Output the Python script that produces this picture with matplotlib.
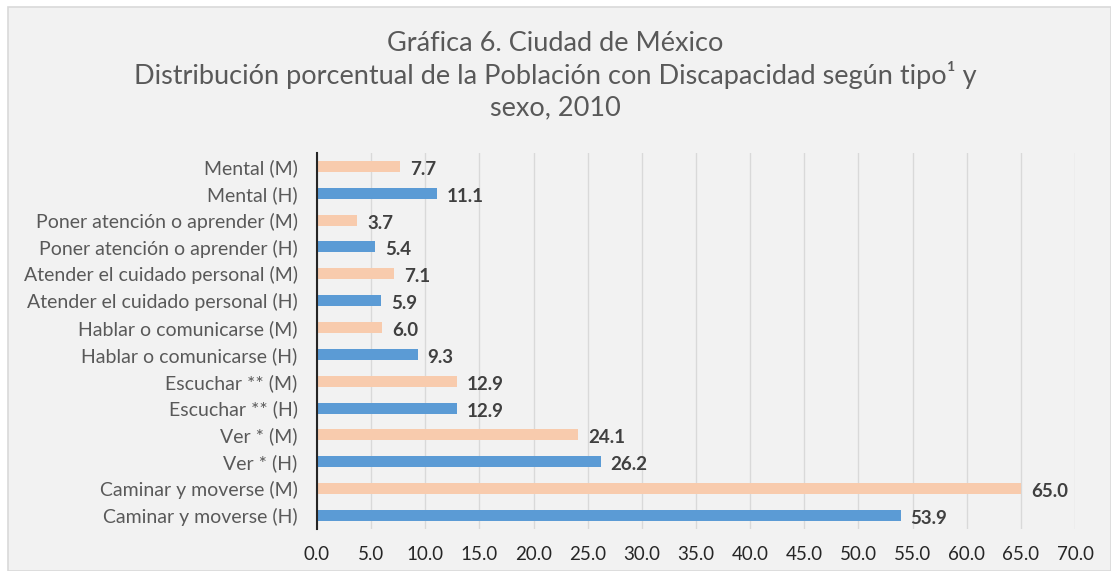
import matplotlib.pyplot as plt
from matplotlib.patches import Rectangle
from matplotlib import transforms

plt.rcParams['font.family'] = ['Lato', 'DejaVu Sans']

# categories from bottom to top
categories = ['Caminar y moverse (H)', 'Caminar y moverse (M)',
              'Ver * (H)', 'Ver * (M)',
              'Escuchar ** (H)', 'Escuchar ** (M)',
              'Hablar o comunicarse (H)', 'Hablar o comunicarse (M)',
              'Atender el cuidado personal (H)', 'Atender el cuidado personal (M)',
              'Poner atención o aprender (H)', 'Poner atención o aprender (M)',
              'Mental (H)', 'Mental (M)']
values = [53.9, 65.0, 26.2, 24.1, 12.9, 12.9, 9.3, 6.0, 5.9, 7.1, 5.4, 3.7, 11.1, 7.7]
xticks = [0, 5, 10, 15, 20, 25, 30, 35, 40, 45, 50, 55, 60, 65, 70]

blue = '#5b9bd5'
orange = '#f8cbad'
colors = [blue if c.endswith('(H)') else orange for c in categories]

fig = plt.figure(figsize=(11.11, 5.71), dpi=100)
fig.patch.set_facecolor('white')
fig.patches.append(Rectangle((8 / 1111, 0), 1 - 8 / 1111, 1 - 7 / 571,
                             transform=fig.transFigure, facecolor='#f2f2f2',
                             edgecolor='#d9d9d9', linewidth=1.2, zorder=-5))

ax = fig.add_axes([0.2853, 0.0736, 0.6823, 0.6585])
ax.set_facecolor('none')
ax.set_zorder(2)

ypos = list(range(len(categories)))
ax.barh(ypos, values, height=0.41, color=colors, zorder=3)

# value labels, slightly offset right and down like Excel
offset = transforms.offset_copy(ax.transData, fig=fig, x=10, y=-3, units='dots')
for y, v in zip(ypos, values):
    ax.text(v, y, f'{v:.1f}', transform=offset, va='center', ha='left',
            fontsize=13.5, fontweight='bold', color='#404040')

ax.set_xlim(0, 70)
ax.set_ylim(-0.5, len(categories) - 0.5)
ax.set_xticks(xticks)
ax.set_xticklabels([f'{t:.1f}' for t in xticks])
ax.set_yticks(ypos)
ax.set_yticklabels(categories)
ax.tick_params(axis='both', length=0, colors='#404040')
ax.tick_params(axis='x', pad=12, labelsize=13.5, labelcolor='#262626')
ax.tick_params(axis='y', pad=14, labelsize=14, labelcolor='#595959')

ax.grid(axis='x', color='#d9d9d9', linewidth=1, zorder=0)
for s in ['top', 'right', 'bottom']:
    ax.spines[s].set_visible(False)
ax.spines['left'].set_color('#262626')
ax.spines['left'].set_linewidth(1.5)
ax.spines['left'].set_zorder(4)

fig.text(0.5, 0.923, 'Gráfica 6. Ciudad de México', ha='center', va='center',
         fontsize=19.5, color='#595959')
fig.text(0.5, 0.868, 'Distribución porcentual de la Población con Discapacidad según tipo¹ y',
         ha='center', va='center', fontsize=19.5, color='#595959')
fig.text(0.5, 0.811, 'sexo, 2010', ha='center', va='center', fontsize=19.5, color='#595959')

fig.savefig('out.png', dpi=100, facecolor=fig.get_facecolor())
